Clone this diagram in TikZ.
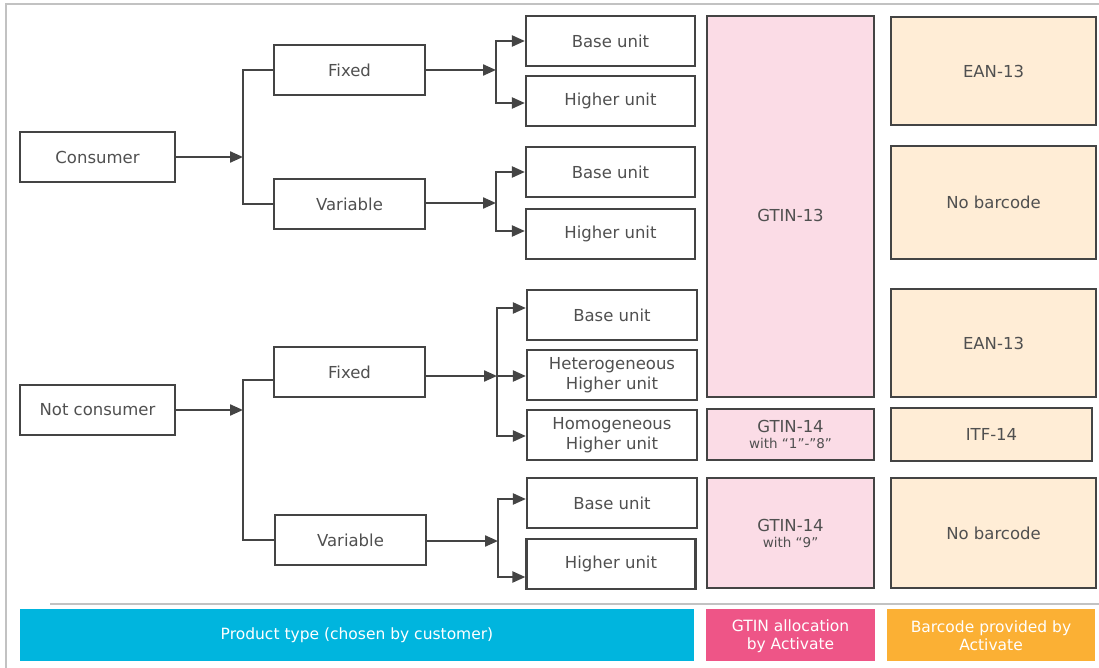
\documentclass[tikz,border=0pt]{standalone}
\usepackage{fontspec}
\setmainfont{DejaVu Sans}
\usetikzlibrary{arrows.meta}
\definecolor{bordergray}{HTML}{444444}
\definecolor{txtgray}{HTML}{505050}
\definecolor{framegray}{HTML}{C2C2C2}
\definecolor{pinkfill}{HTML}{FBDCE6}
\definecolor{peachfill}{HTML}{FFEDD6}
\definecolor{cyanbar}{HTML}{00B5DE}
\definecolor{pinkbar}{HTML}{EE5587}
\definecolor{orangebar}{HTML}{FBB034}
\tikzset{
  box/.style={draw=bordergray, line width=2.2pt, fill=white, text=txtgray,
    font=\fontsize{16.5}{20}\selectfont, align=center, inner sep=0pt,
    rectangle, minimum height=50pt},
  lvl1/.style={box, minimum width=155pt},
  lvl2/.style={box, minimum width=151pt},
  lvl3/.style={box, minimum width=169pt},
  gtinbox/.style={box, fill=pinkfill, minimum width=167pt},
  codebox/.style={box, fill=peachfill, minimum width=205pt},
  legend/.style={rectangle, inner sep=0pt, text=white, align=center,
    font=\fontsize{15.5}{18}\selectfont, minimum height=52pt},
  link/.style={draw=bordergray, line width=2.2pt},
  arr/.style={link, -{Triangle[length=13pt,width=11pt]}}
}
\newcommand{\smalltxt}[1]{{\fontsize{13.5}{15}\selectfont #1}}
\begin{document}
\begin{tikzpicture}[x=1pt,y=-1pt]
\useasboundingbox (0,0) rectangle (1099,668);
\fill[white] (0,0) rectangle (1099,668);
% frame
\draw[framegray, line width=1.5pt] (6,672) -- (6,4) -- (1105,4);
\draw[framegray, line width=2.5pt] (50,604) -- (1105,604);

% level 1
\node[lvl1] (cons) at (97.5,157) {Consumer};
\node[lvl1] (ncons) at (97.5,410) {Not consumer};
% level 2
\node[lvl2] (fix1) at (349.5,70) {Fixed};
\node[lvl2] (var1) at (349.5,204) {Variable};
\node[lvl2] (fix2) at (349.5,372) {Fixed};
\node[lvl2] (var2) at (350.5,540) {Variable};
% level 3
\node[lvl3] (bu1) at (610.5,41) {Base unit};
\node[lvl3] (hu1) at (610.5,101) {Higher unit};
\node[lvl3] (bu2) at (610.5,172) {Base unit};
\node[lvl3] (hu2) at (610.5,234) {Higher unit};
\node[lvl3, minimum width=170pt] (bu3) at (612,315) {Base unit};
\node[lvl3, minimum width=170pt] (het) at (612,375) {Heterogeneous\\Higher unit};
\node[lvl3, minimum width=170pt] (hom) at (612,435) {Homogeneous\\Higher unit};
\node[lvl3, minimum width=170pt] (bu4) at (612,503) {Base unit};
\node[lvl3] (hu4) at (611,564) {Higher unit};
% GTIN column
\node[gtinbox, minimum height=381pt] (gt13) at (790.5,206.5) {};
\node[text=txtgray, font=\fontsize{16.5}{20}\selectfont] (gt13t) at (790.5,215) {GTIN-13};
\node[gtinbox, minimum height=51pt] (gt14a) at (790.5,434.5)
  {GTIN-14\\[-4pt]\smalltxt{with “1”-”8”}};
\node[gtinbox, minimum height=110pt] (gt14b) at (790.5,533)
  {GTIN-14\\[-4pt]\smalltxt{with “9”}};
% barcode column
\node[codebox, minimum height=108pt] (ean1) at (993.5,71) {EAN-13};
\node[codebox, minimum height=113pt] (nob1) at (993.5,202.5) {No barcode};
\node[codebox, minimum height=108pt] (ean2) at (993.5,343) {EAN-13};
\node[codebox, minimum width=201pt, minimum height=53pt] (itf) at (991.5,434.5) {ITF-14};
\node[codebox, minimum height=110pt] (nob2) at (993.5,533) {No barcode};

% legend
\node[legend, fill=cyanbar, minimum width=674pt] (lg1) at (357,635) {Product type (chosen by customer)};
\node[legend, fill=pinkbar, minimum width=169pt] (lg2) at (790.5,635) {\rule{0pt}{14pt}GTIN allocation\\by Activate};
\node[legend, fill=orangebar, minimum width=208pt] (lg3) at (991,635) {\rule{0pt}{14pt}Barcode provided by\\Activate};

% junctions
\coordinate (j1) at (243,157);
\coordinate (j2) at (243,410);
\coordinate (k1) at (496,70);
\coordinate (k2) at (496,203);
\coordinate (k3) at (497,376);
\coordinate (k4) at (498,541);

% connectors
\draw[arr] (cons.east) -- (j1);
\draw[link] (fix1.west) -| (j1) |- (var1.west);
\draw[arr] (ncons.east) -- (j2);
\draw[link] ([yshift=-8pt]fix2.west) -| (j2) |- ([yshift=0pt]var2.west);

\draw[arr] (fix1.east) -- (k1);
\draw[arr] (k1) |- (bu1.west);
\draw[arr] (k1) |- ([yshift=-2pt]hu1.west);

\draw[arr] ([yshift=1pt]var1.east) -- (k2);
\draw[arr] (k2) |- (bu2.west);
\draw[arr] (k2) |- ([yshift=3pt]hu2.west);

\draw[arr] ([yshift=-4pt]fix2.east) -- (k3);
\draw[arr] (k3) |- ([yshift=7pt]bu3.west);
\draw[arr] (k3) |- ([yshift=-1pt]het.west);
\draw[arr] (k3) |- ([yshift=-1pt]hom.west);

\draw[arr] ([yshift=-1pt]var2.east) -- (k4);
\draw[arr] (k4) |- ([yshift=4pt]bu4.west);
\draw[arr] (k4) |- ([yshift=-13pt]hu4.west);
\end{tikzpicture}
\end{document}
